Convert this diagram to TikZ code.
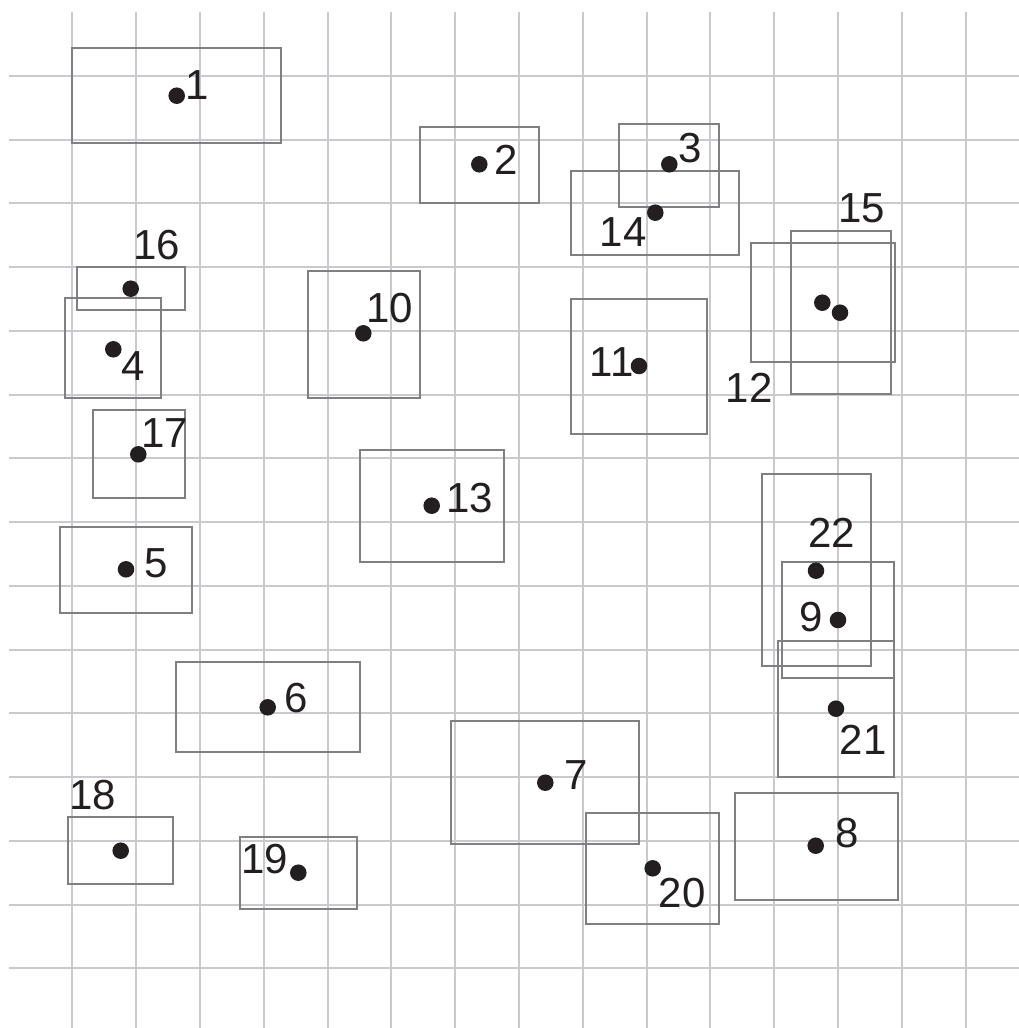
\documentclass[tikz,border=0pt]{standalone}
\usepackage{fontspec}
\setmainfont{Liberation Sans}
\definecolor{gridgray}{RGB}{202,202,206}
\definecolor{boxgray}{RGB}{128,128,130}
\definecolor{dotblack}{RGB}{35,31,32}
\tikzset{
  gridline/.style={draw=gridgray, line width=1.5pt},
  region/.style={draw=boxgray, line width=1.4pt},
  site/.style={circle, fill=dotblack, inner sep=0pt, minimum size=12.4pt},
  tag/.style={inner sep=0pt, anchor=center, text=dotblack, font=\fontsize{31.5}{36}\selectfont}
}

\begin{document}
\begin{tikzpicture}[x=0.75pt,y=0.75pt,yscale=-1,xscale=1]
%set diagram left start at 0, and has height of 1028
\useasboundingbox (0,0) rectangle (1019,1028);

%Straight Lines: vertical grid
\draw [gridline] (72.3,12) -- (72.3,1028) ;
\draw [gridline] (136.1,12) -- (136.1,1028) ;
\draw [gridline] (199.9,12) -- (199.9,1028) ;
\draw [gridline] (263.7,12) -- (263.7,1028) ;
\draw [gridline] (327.5,12) -- (327.5,1028) ;
\draw [gridline] (391.3,12) -- (391.3,1028) ;
\draw [gridline] (455.1,12) -- (455.1,1028) ;
\draw [gridline] (518.9,12) -- (518.9,1028) ;
\draw [gridline] (582.7,12) -- (582.7,1028) ;
\draw [gridline] (646.5,12) -- (646.5,1028) ;
\draw [gridline] (710.3,12) -- (710.3,1028) ;
\draw [gridline] (774.1,12) -- (774.1,1028) ;
\draw [gridline] (837.9,12) -- (837.9,1028) ;
\draw [gridline] (901.7,12) -- (901.7,1028) ;
\draw [gridline] (965.5,12) -- (965.5,1028) ;
%Straight Lines: horizontal grid
\draw [gridline] (9,75.7) -- (1019,75.7) ;
\draw [gridline] (9,139.5) -- (1019,139.5) ;
\draw [gridline] (9,203.2) -- (1019,203.2) ;
\draw [gridline] (9,267) -- (1019,267) ;
\draw [gridline] (9,330.7) -- (1019,330.7) ;
\draw [gridline] (9,394.5) -- (1019,394.5) ;
\draw [gridline] (9,458.3) -- (1019,458.3) ;
\draw [gridline] (9,522) -- (1019,522) ;
\draw [gridline] (9,585.8) -- (1019,585.8) ;
\draw [gridline] (9,649.5) -- (1019,649.5) ;
\draw [gridline] (9,713.3) -- (1019,713.3) ;
\draw [gridline] (9,777.1) -- (1019,777.1) ;
\draw [gridline] (9,840.8) -- (1019,840.8) ;
\draw [gridline] (9,904.6) -- (1019,904.6) ;
\draw [gridline] (9,968.3) -- (1019,968.3) ;

%Shape: Rectangle 1
\draw [region] (72.3,48.3) rectangle (280.7,143.3) ;
%Shape: Rectangle 2
\draw [region] (420,127.3) rectangle (539.3,202.7) ;
%Shape: Rectangle 3
\draw [region] (618.7,124) rectangle (719,206.7) ;
%Shape: Rectangle 4
\draw [region] (65,298.3) rectangle (160.7,397.7) ;
%Shape: Rectangle 5
\draw [region] (60,526.7) rectangle (192.3,613.3) ;
%Shape: Rectangle 6
\draw [region] (176,661.7) rectangle (360,751.7) ;
%Shape: Rectangle 7
\draw [region] (451.3,720.7) rectangle (638.8,844.3) ;
%Shape: Rectangle 8
\draw [region] (734.8,792.7) rectangle (898.2,900) ;
%Shape: Rectangle 9
\draw [region] (782.3,562.3) rectangle (894.3,677.7) ;
%Shape: Rectangle 10
\draw [region] (308.3,270.7) rectangle (420,397.7) ;
%Shape: Rectangle 11
\draw [region] (570.7,299.3) rectangle (706.7,434.3) ;
%Shape: Rectangle 12
\draw [region] (750.7,242.7) rectangle (895,361.7) ;
%Shape: Rectangle 13
\draw [region] (360,450) rectangle (504,561.7) ;
%Shape: Rectangle 14
\draw [region] (570.7,171) rectangle (739,255) ;
%Shape: Rectangle 15
\draw [region] (790.7,230.7) rectangle (890.7,394.3) ;
%Shape: Rectangle 16
\draw [region] (77.3,266.7) rectangle (185,310) ;
%Shape: Rectangle 17
\draw [region] (92.7,410) rectangle (185,498.3) ;
%Shape: Rectangle 18
\draw [region] (68.3,816.7) rectangle (172.7,884) ;
%Shape: Rectangle 19
\draw [region] (240,836.7) rectangle (356.7,908.7) ;
%Shape: Rectangle 20
\draw [region] (586.3,812.7) rectangle (719,924.3) ;
%Shape: Rectangle 21
\draw [region] (778.3,640.7) rectangle (894.3,776.7) ;
%Shape: Rectangle 22
\draw [region] (762.3,474) rectangle (870.7,666) ;

%Shape: Circle (sites)
\node [site] (p1) at (176.7,95.7) {};
\node [site] (p2) at (479.3,164.3) {};
\node [site] (p3) at (669.3,164.3) {};
\node [site] (p4) at (113.3,349.3) {};
\node [site] (p5) at (126,569.3) {};
\node [site] (p6) at (267.7,707.3) {};
\node [site] (p7) at (545.3,782.7) {};
\node [site] (p8) at (815.7,845.7) {};
\node [site] (p9) at (838,620) {};
\node [site] (p10) at (363.3,333.3) {};
\node [site] (p11) at (639,366) {};
\node [site] (p12) at (822.3,302.7) {};
\node [site] (p13) at (431.7,505.7) {};
\node [site] (p14) at (655.3,212.7) {};
\node [site] (p15) at (840,312.7) {};
\node [site] (p16) at (130.7,288.7) {};
\node [site] (p17) at (138.3,454.3) {};
\node [site] (p18) at (120.7,850.7) {};
\node [site] (p19) at (298.3,872.7) {};
\node [site] (p20) at (652.7,868.3) {};
\node [site] (p21) at (836,708.7) {};
\node [site] (p22) at (816,570.7) {};

% Text Node
\node [tag] (l1) at (196.7,85) {1};
\node [tag] (l2) at (505.7,160) {2};
\node [tag] (l3) at (690,148) {3};
\node [tag] (l4) at (133.3,366) {4};
\node [tag] (l5) at (155.7,563.3) {5};
\node [tag] (l6) at (296,698.3) {6};
\node [tag] (l7) at (575.7,775) {7};
\node [tag] (l8) at (846.9,833.3) {8};
\node [tag] (l9) at (810.7,616.7) {9};
\node [tag] (l10) at (390,308.3) {10};
\node [tag] (l11) at (611.7,361.7) {11};
\node [tag] (l12) at (749,388.3) {12};
\node [tag] (l13) at (470,498.3) {13};
\node [tag] (l14) at (623.3,231.7) {14};
\node [tag] (l15) at (861.7,208.3) {15};
\node [tag] (l16) at (156.7,245) {16};
\node [tag] (l17) at (165,432.7) {17};
\node [tag] (l18) at (92.7,795) {18};
\node [tag] (l19) at (265,859.3) {19};
\node [tag] (l20) at (682.3,893.3) {20};
\node [tag] (l21) at (863.3,740) {21};
\node [tag] (l22) at (831.7,533.3) {22};

\end{tikzpicture}
\end{document}
